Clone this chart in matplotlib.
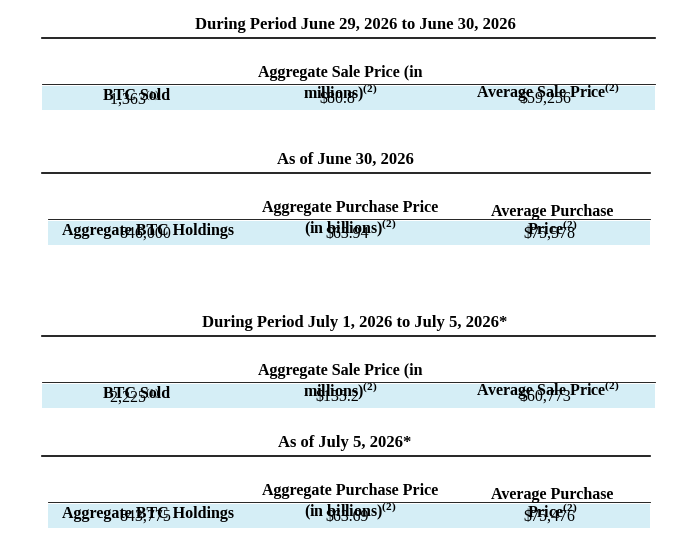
import matplotlib.pyplot as plt

plt.rcParams['font.family'] = 'Liberation Serif'
plt.rcParams['mathtext.fontset'] = 'custom'
plt.rcParams['mathtext.rm'] = 'Liberation Serif'
plt.rcParams['mathtext.bf'] = 'Liberation Serif:bold'

S2 = r"$^{\mathbf{(2)}}$"
S1 = r"$^{(1)}$"

titles = ["During Period June 29, 2026 to June 30, 2026",
          "As of June 30, 2026",
          "During Period July 1, 2026 to July 5, 2026*",
          "As of July 5, 2026*"]
sale_headers = ["BTC Sold", "Aggregate Sale Price (in\nmillions)" + S2, "Average Sale Price" + S2]
hold_headers = ["Aggregate BTC Holdings", "Aggregate Purchase Price\n(in billions)" + S2,
                "Average Purchase\nPrice" + S2]
values = [["1,363" + S1, r"\$80.8", r"\$59,256"],
          ["846,000", r"\$63.94", r"\$75,578"],
          ["2,225" + S1, r"\$135.2", r"\$60,773"],
          ["843,775", r"\$63.69", r"\$75,476"]]

# layout (pixel coords)
title_y = [25, 160, 323, 443]
sec_x = [(42, 655), (48, 650), (42, 655), (48, 650)]
col_x = [[137, 340, 548], [148, 350, 552], [137, 340, 548], [148, 350, 552]]

fig = plt.figure(figsize=(6.98, 5.53), dpi=100)
ax = fig.add_axes([0, 0, 1, 1])
ax.set_xlim(0, 698)
ax.set_ylim(553, 0)
ax.axis('off')

blue = "#d5eef6"
for i in range(4):
    ty = title_y[i]
    x0, x1 = sec_x[i]
    ax.text(355 if i % 2 == 0 else 345, ty, titles[i], ha='center', va='center',
            fontsize=12, fontweight='bold')
    ax.plot([42, x1], [ty + 13, ty + 13], color='black', lw=1.2)
    headers = sale_headers if i % 2 == 0 else hold_headers
    hy = ty + 59
    for j, h in enumerate(headers):
        ax.text(col_x[i][j], hy + 20, h, ha='center', va='bottom', fontsize=11.5,
                fontweight='bold', linespacing=1.05)
    ax.plot([x0, x1], [hy, hy], color='black', lw=0.6)
    ax.add_patch(plt.Rectangle((x0, hy + 2), x1 - x0, 24, color=blue, lw=0))
    for j, v in enumerate(values[i]):
        ax.text(col_x[i][j] - 3, hy + 15, v, ha='center', va='center', fontsize=11.5)

fig.savefig("out.png", dpi=100)
